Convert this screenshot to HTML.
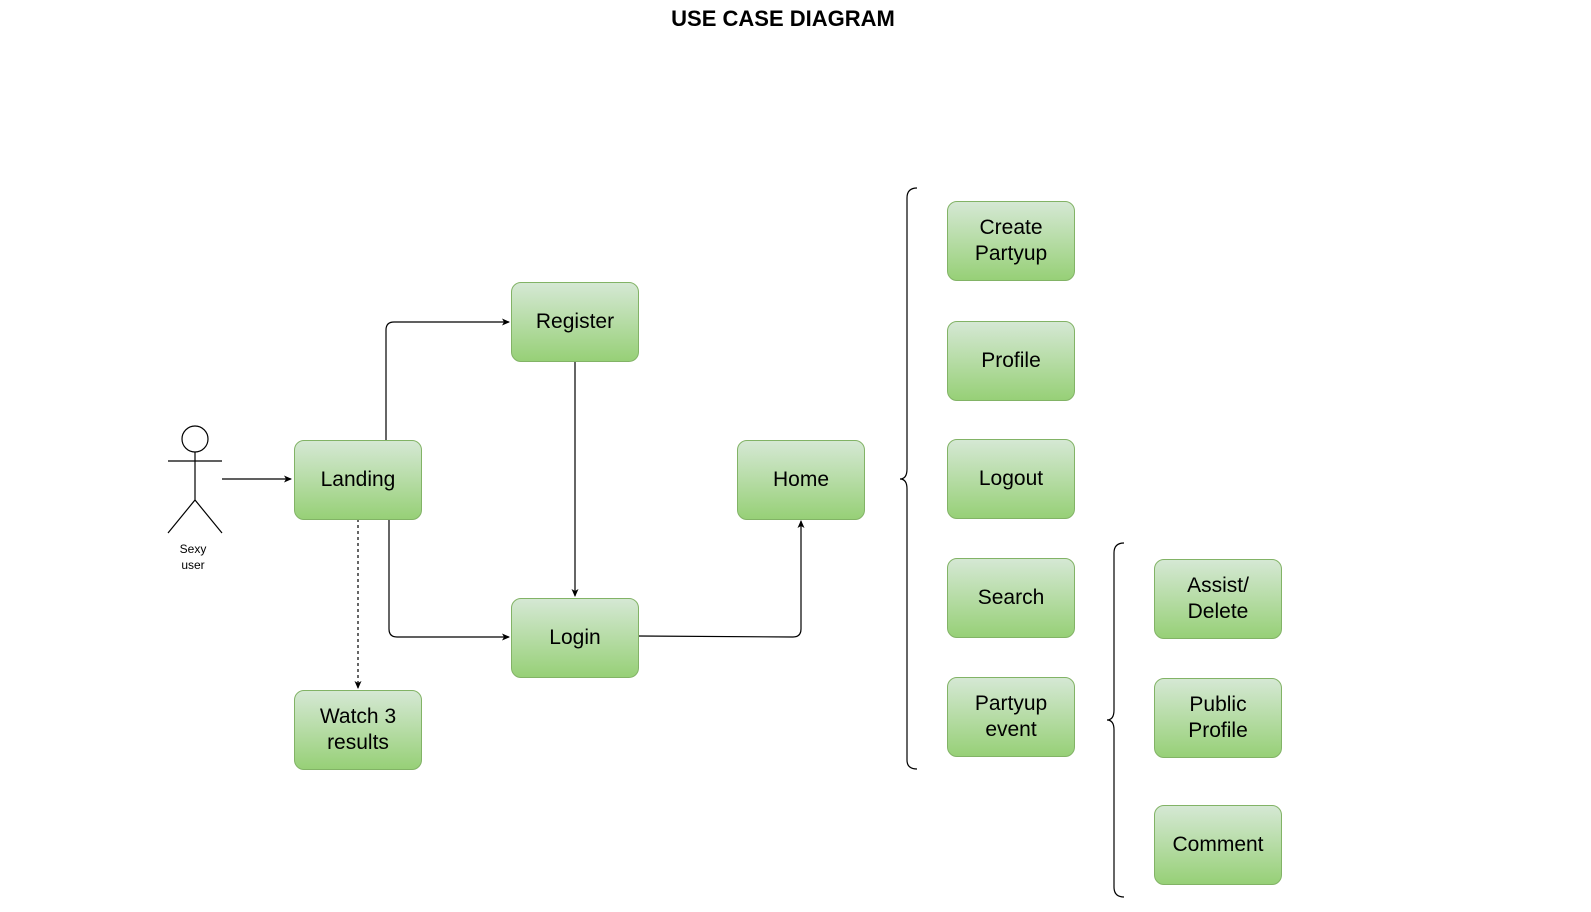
<!DOCTYPE html>
<html><head><meta charset="utf-8"><style>
html,body{margin:0;padding:0;background:#fff;}
body{width:1591px;height:912px;position:relative;overflow:hidden;font-family:"Liberation Sans",Arial,sans-serif;}
.b{position:absolute;width:126px;height:78px;border:1px solid #82b366;border-radius:10px;background:linear-gradient(#d5e8d4,#97d077);display:flex;align-items:center;justify-content:center;text-align:center;font-size:21px;line-height:26px;color:#000;}
.t{position:absolute;left:0;width:1566px;top:6px;text-align:center;font-weight:bold;font-size:22px;}
</style></head><body>
<div class="t">USE CASE DIAGRAM</div>
<svg width="1591" height="912" style="position:absolute;left:0;top:0">
<defs><marker id="a" markerWidth="8" markerHeight="8" refX="7" refY="4" orient="auto" markerUnits="userSpaceOnUse"><path d="M0,0.5 L8,4 L0,7.5 L2,4z" fill="#000"/></marker></defs>
<g fill="none" stroke="#000" stroke-width="1.2">
<circle cx="195" cy="439" r="13"/>
<path d="M195,452V500M168,461H222M168,533L195,500L222,533"/>
<path d="M222,479H291" marker-end="url(#a)"/>
<path d="M386,440V330Q386,322 394,322H509" marker-end="url(#a)"/>
<path d="M575,361V596" marker-end="url(#a)"/>
<path d="M389,519V629Q389,637 397,637H509" marker-end="url(#a)"/>
<path d="M358,519V688" stroke-dasharray="3,3" marker-end="url(#a)"/>
<path d="M638,636L793,637Q801,637 801,629V521" marker-end="url(#a)"/>
<path d="M917,188Q907,188 907,198V469Q907,479 900,479Q907,479 907,489V760Q907,769 917,769"/>
<path d="M1124,543Q1114,543 1114,553V710Q1114,720 1107,720Q1114,720 1114,730V887Q1114,897 1124,897"/>
</g>
<text x="193" y="553" font-size="12" text-anchor="middle" font-family="Liberation Sans,sans-serif">Sexy</text>
<text x="193" y="569" font-size="12" text-anchor="middle" font-family="Liberation Sans,sans-serif">user</text>
</svg>
<div class="b" style="left:294px;top:440px">Landing</div>
<div class="b" style="left:511px;top:282px">Register</div>
<div class="b" style="left:511px;top:598px">Login</div>
<div class="b" style="left:737px;top:440px">Home</div>
<div class="b" style="left:294px;top:690px">Watch 3<br>results</div>
<div class="b" style="left:947px;top:201px">Create<br>Partyup</div>
<div class="b" style="left:947px;top:321px">Profile</div>
<div class="b" style="left:947px;top:439px">Logout</div>
<div class="b" style="left:947px;top:558px">Search</div>
<div class="b" style="left:947px;top:677px">Partyup<br>event</div>
<div class="b" style="left:1154px;top:559px">Assist/<br>Delete</div>
<div class="b" style="left:1154px;top:678px">Public<br>Profile</div>
<div class="b" style="left:1154px;top:805px">Comment</div>
</body></html>
